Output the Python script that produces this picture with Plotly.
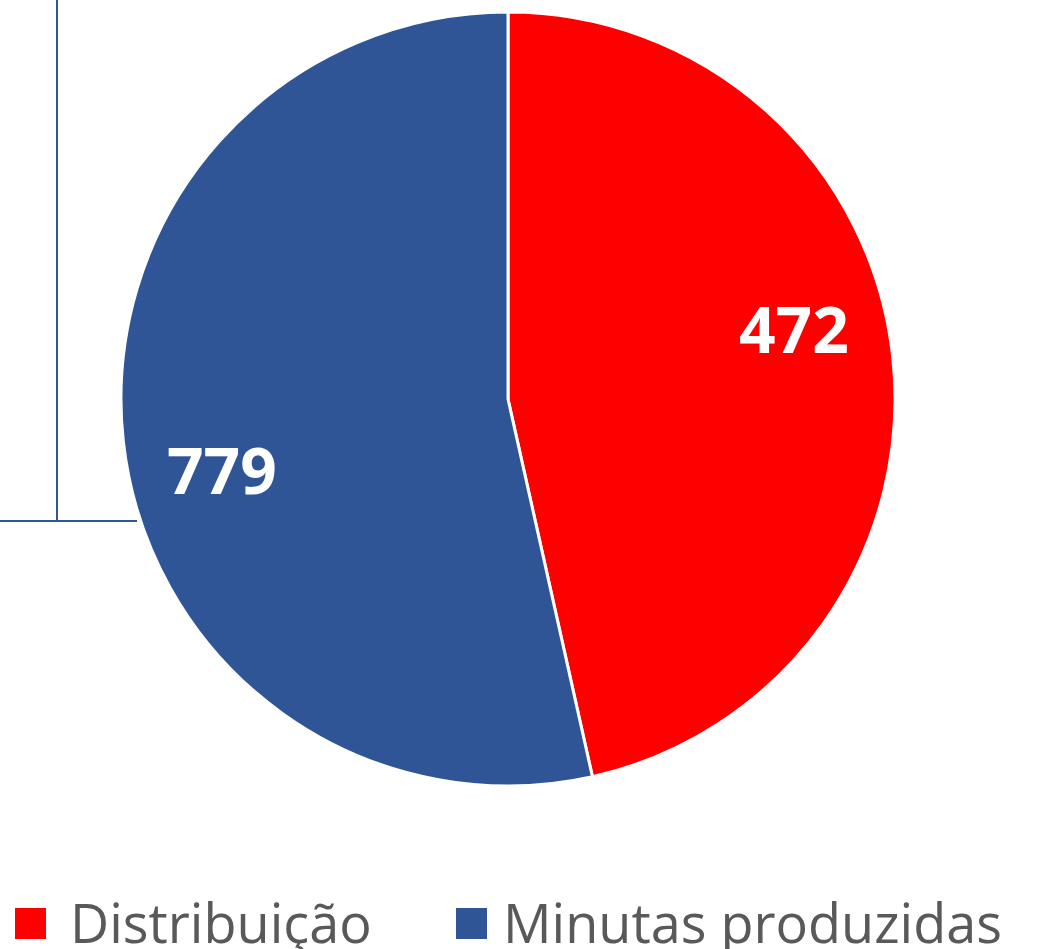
import math
import plotly.graph_objects as go

# Data
categories = ["Distribuição", "Minutas produzidas"]
data_labels = ["472", "779"]          # numbers printed on the slices
slice_shares = [46.5, 53.5]           # slice sizes (percent) measured from the slice angles
colors = ["#FF0000", "#2F5597"]

W, H = 1046, 949
cx, cy, R = 508, 399, 387

fig = go.Figure()
fig.add_trace(go.Pie(
    labels=categories,
    values=slice_shares,
    text=data_labels,
    textinfo="none",
    marker=dict(colors=colors, line=dict(color="white", width=3)),
    sort=False,
    direction="clockwise",
    rotation=0,
    showlegend=False,
    hoverinfo="label+text",
    domain=dict(x=[(cx - R) / W, (cx + R) / W], y=[(H - cy - R) / H, (H - cy + R) / H]),
))

# data labels placed like the original (slightly counter-clockwise of each slice middle)
label_offset_deg = -7.5
label_r_frac = 0.76
annotations = []
total = sum(slice_shares)
cum = 0.0
for i, v in enumerate(slice_shares):
    mid = (cum + v / 2) / total * 360 + label_offset_deg
    cum += v
    a = math.radians(mid)
    px = cx + label_r_frac * R * math.sin(a)
    py = cy - label_r_frac * R * math.cos(a)
    annotations.append(dict(text=data_labels[i], xref="paper", yref="paper",
                            x=px / W, y=(H - py) / H, xanchor="center", yanchor="middle",
                            showarrow=False,
                            font=dict(family="Open Sans", size=64, color="white", weight="bold")))

line_col = "#2F5597"
shapes = [
    dict(type="line", xref="paper", yref="paper", x0=57 / W, x1=57 / W, y0=1, y1=(H - 522) / H,
         line=dict(color=line_col, width=2)),
    dict(type="line", xref="paper", yref="paper", x0=0, x1=137 / W, y0=(H - 521) / H, y1=(H - 521) / H,
         line=dict(color=line_col, width=2)),
]

# manual legend
legend_x_sq = [15, 456]
legend_x_tx = [68, 501]
for i, cat in enumerate(categories):
    x0 = legend_x_sq[i]
    shapes.append(dict(type="rect", xref="paper", yref="paper",
                       x0=x0 / W, x1=(x0 + 31) / W, y0=(H - 939) / H, y1=(H - 908) / H,
                       fillcolor=colors[i], line=dict(width=0)))
    annotations.append(dict(text=cat, xref="paper", yref="paper", x=legend_x_tx[i] / W, y=(H - 922) / H,
                            xanchor="left", yanchor="middle", showarrow=False,
                            font=dict(family="Open Sans", size=54, color="#595959")))

fig.update_layout(
    width=W, height=H,
    margin=dict(l=0, r=0, t=0, b=0),
    paper_bgcolor="white", plot_bgcolor="white",
    shapes=shapes, annotations=annotations,
)
fig.write_html("out.html", config={"displayModeBar": False},
               post_script="document.body.style.margin='0';document.body.style.overflow='hidden';")
